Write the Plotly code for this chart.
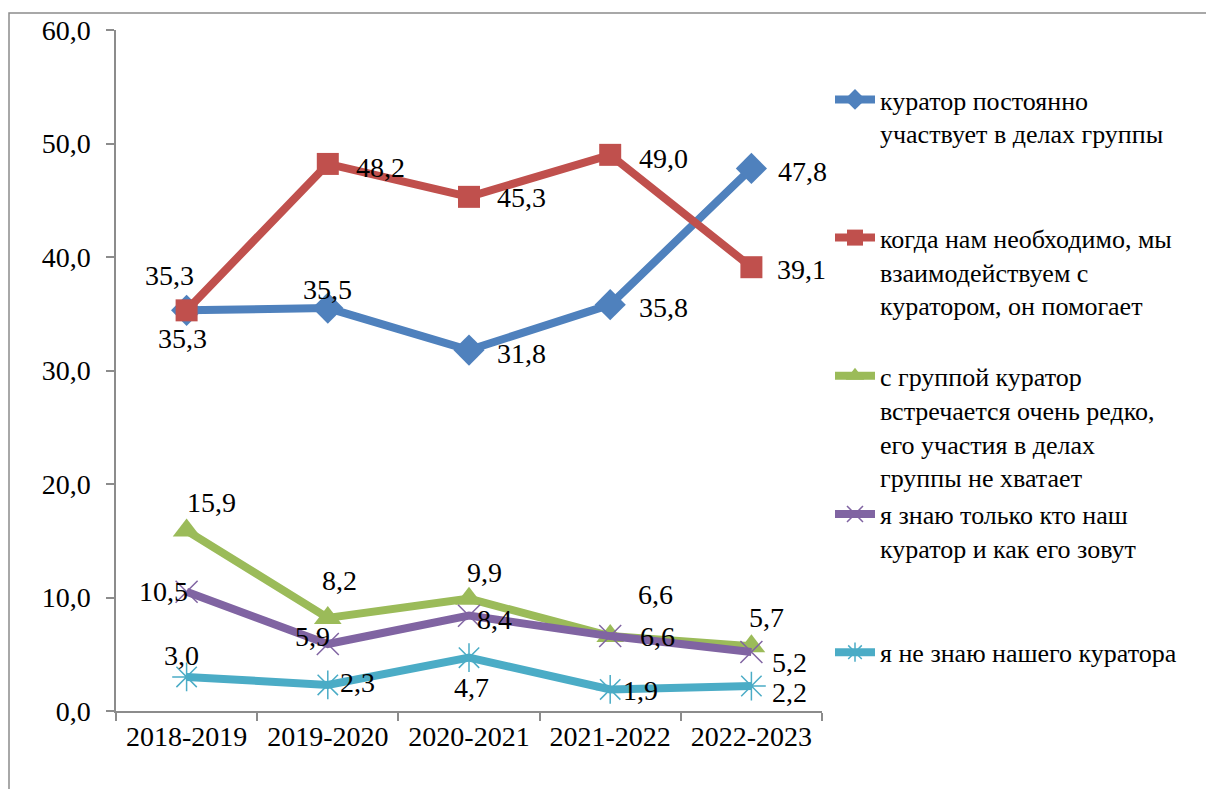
import plotly.graph_objects as go

# years on the x axis
years = ["2018-2019", "2019-2020", "2020-2021", "2021-2022", "2022-2023"]

# survey answers, %
always_involved = [35.3, 35.5, 31.8, 35.8, 47.8]
helps_when_needed = [35.3, 48.2, 45.3, 49.0, 39.1]
rarely_meets = [15.9, 8.2, 9.9, 6.6, 5.7]
know_name_only = [10.5, 5.9, 8.4, 6.6, 5.2]
dont_know = [3.0, 2.3, 4.7, 1.9, 2.2]

names = [
    "куратор постоянно<br>участвует в делах группы",
    "когда нам необходимо, мы<br>взаимодействуем с<br>куратором, он помогает",
    "с группой куратор<br>встречается очень редко,<br>его участия в делах<br>группы не хватает",
    "я знаю только кто наш<br>куратор и как его зовут",
    "я не знаю нашего куратора",
]

y_ticks = [0, 10, 20, 30, 40, 50, 60]

FONT = "Liberation Serif"
# the page body adds 8px around the figure, so page pixels are figure pixels + 8
OFF = 8
W, H = 1214, 789
ML, MR, MT, MB = 116 - OFF, W - (822 - OFF), 30 - OFF, H - (711 - OFF)

series = [always_involved, helps_when_needed, rarely_meets, know_name_only, dont_know]
colors = ["#4F81BD", "#C0504D", "#9BBB59", "#8064A2", "#4BACC6"]
symbols = ["diamond", "square", "triangle-up", "x-thin-open", "asterisk-open"]
sizes = [24, 22, 24, 22, 24]

# pixel offsets (dx right, dy down) of every value label from its point
label_offsets = [
    [(-4, 28), (0, -19), (52, 3), (53, 3), (51, 3)],
    [(-17, -35), (53, 4), (52, 1), (53, 4), (50, 2)],
    [(25, -28), (12, -37), (15, -26), (45, -42), (15, -29)],
    [(-23, 0), (-15, -8), (25, 4), (47, 0), (38, 11)],
    [(-5, -21), (30, -2), (2, 30), (30, 1), (38, 6)],
]

fig = go.Figure()

for i, (vals, name, col, sym, sz) in enumerate(zip(series, names, colors, symbols, sizes)):
    lines = name.count("<br>") + 1
    padded = name if i == len(series) - 1 else name + "<br> " * (4 - lines)
    open_sym = sym.endswith("open")
    fig.add_trace(go.Scatter(
        x=years, y=vals, name=padded, mode="lines+markers",
        line=dict(color=col, width=8),
        marker=dict(symbol=sym, size=sz, color=col,
                    line=dict(color=col, width=1.5 if open_sym else 0)),
    ))

annotations = []
for vals, offs in zip(series, label_offsets):
    for yr, v, (dx, dy) in zip(years, vals, offs):
        annotations.append(dict(
            x=yr, y=v, xref="x", yref="y", text=f"{v:.1f}".replace(".", ","),
            showarrow=False, xshift=dx, yshift=-dy,
            font=dict(family=FONT, size=28, color="black"),
        ))

pw = W - ML - MR
ph = H - MT - MB


def px_x(page_x):
    return (page_x - OFF - ML) / pw


def px_y(page_y):
    return (H - MB - (page_y - OFF)) / ph


fig.add_shape(
    type="rect", xref="paper", yref="paper",
    x0=px_x(9), x1=px_x(W + 40), y0=px_y(H + 40), y1=px_y(13),
    line=dict(color="#8c8c8c", width=1.5), fillcolor="rgba(0,0,0,0)", layer="below",
)

fig.update_layout(
    width=W, height=H,
    margin=dict(l=ML, r=MR, t=MT, b=MB, autoexpand=False),
    paper_bgcolor="white", plot_bgcolor="white",
    separators=", ",
    font=dict(family=FONT, size=28, color="black"),
    annotations=annotations,
    legend=dict(
        x=px_x(830), xanchor="left",
        y=px_y(76), yanchor="top",
        font=dict(family=FONT, size=26, color="black"),
        valign="top", bgcolor="rgba(0,0,0,0)", borderwidth=0,
        itemwidth=40, maxheight=900,
    ),
    showlegend=True,
)

fig.update_xaxes(
    type="category", range=[-0.5, 4.5], tickson="boundaries",
    showline=True, linecolor="#8c8c8c", linewidth=1.5,
    ticks="outside", ticklen=8, tickcolor="#8c8c8c", tickwidth=1.5,
    showgrid=False, zeroline=False, automargin=False,
    tickfont=dict(family=FONT, size=28, color="black"),
)
fig.update_yaxes(
    range=[0, 60], tickvals=y_ticks, tickformat=".1f",
    showline=True, linecolor="#8c8c8c", linewidth=1.5,
    ticks="outside", ticklen=8, tickcolor="#8c8c8c", tickwidth=1.5,
    showgrid=False, zeroline=False, ticklabelstandoff=10, automargin=False,
    tickfont=dict(family=FONT, size=28, color="black"),
)

fig.write_html("out.html")
